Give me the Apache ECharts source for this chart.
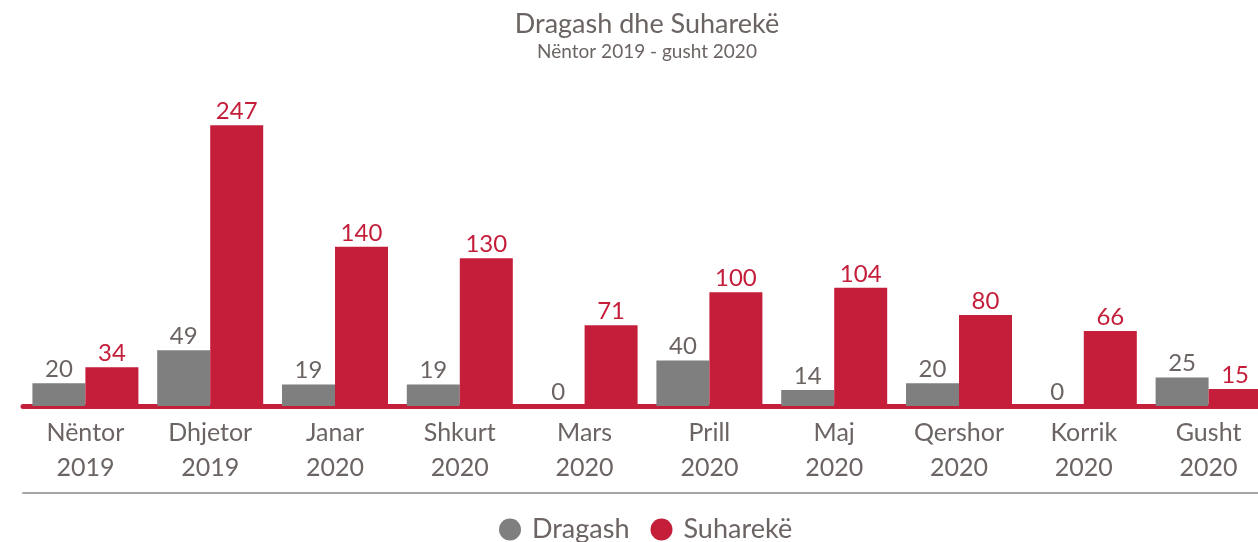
<!DOCTYPE html>
<html>
<head>
<meta charset="utf-8">
<script src="https://cdn.jsdelivr.net/npm/echarts@6/dist/echarts.min.js"></script>
<style>
  html, body { margin: 0; padding: 0; background: #fff; }
  #main { width: 1258px; height: 542px; }
</style>
</head>
<body>
<div id="main"></div>
<script>
// muajt (dy rreshta: muaji + viti)
const months = ['Nëntor\n2019', 'Dhjetor\n2019', 'Janar\n2020', 'Shkurt\n2020', 'Mars\n2020',
  'Prill\n2020', 'Maj\n2020', 'Qershor\n2020', 'Korrik\n2020', 'Gusht\n2020']
const dragash = [20, 49, 19, 19, 0, 40, 14, 20, 0, 25]
const suhareke = [34, 247, 140, 130, 71, 100, 104, 80, 66, 15]

const grey = '#7f7f7f'
const red = '#c41e3a'
const textColor = '#6b6462'
const font = 'Lato'

let chart = echarts.init(document.getElementById('main'))
let option = {
  animation: false,
  textStyle: { fontFamily: font },
  title: {
    text: 'Dragash dhe Suharekë',
    subtext: 'Nëntor 2019 - gusht 2020',
    left: 642,
    textAlign: 'center',
    top: 6,
    itemGap: 4,
    textStyle: { fontFamily: font, fontSize: 27, fontWeight: 'normal', color: textColor },
    subtextStyle: { fontFamily: font, fontSize: 19, color: textColor }
  },
  legend: {
    left: 494,
    top: 511,
    icon: 'circle',
    itemWidth: 34,
    itemHeight: 22,
    itemGap: 21,
    textStyle: { fontFamily: font, fontSize: 27, color: textColor },
    data: ['Dragash', 'Suharekë']
  },
  grid: { left: 23, width: 1248, top: 65, bottom: 136, outerBoundsMode: 'none' },
  xAxis: [
    {
      type: 'category',
      data: months,
      offset: 3,
      axisLine: { lineStyle: { color: red, width: 5 } },
      axisTick: { show: false },
      axisLabel: {
        interval: 0,
        margin: 6,
        fontFamily: font,
        fontSize: 25,
        lineHeight: 35,
        color: textColor
      }
    },
    {
      // vija gri poshte etiketave
      type: 'category',
      data: months,
      position: 'bottom',
      offset: 87,
      axisLine: { lineStyle: { color: '#a6a6a6', width: 2 } },
      axisTick: { show: false },
      axisLabel: { show: false }
    }
  ],
  yAxis: {
    type: 'value',
    min: 0,
    max: 300,
    show: false,
    splitLine: { show: false }
  },
  series: [
    {
      name: 'Dragash',
      type: 'bar',
      data: dragash,
      barWidth: 53,
      barGap: '0%',
      itemStyle: { color: grey },
      label: { show: true, position: 'top', distance: 2, fontFamily: font, fontSize: 24, color: textColor }
    },
    {
      name: 'Suharekë',
      type: 'bar',
      data: suhareke,
      barWidth: 53,
      barGap: '0%',
      itemStyle: { color: red },
      label: { show: true, position: 'top', distance: 2, fontFamily: font, fontSize: 24, color: red }
    }
  ]
}
chart.setOption(option)
</script>
</body>
</html>
